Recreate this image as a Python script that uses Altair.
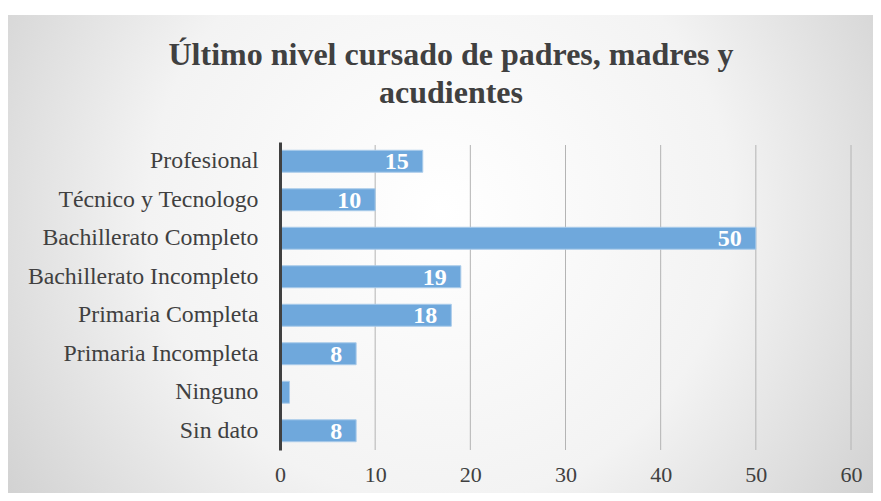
import altair as alt
import pandas as pd

categories = ["Profesional", "Técnico y Tecnologo", "Bachillerato Completo",
              "Bachillerato Incompleto", "Primaria Completa", "Primaria Incompleta",
              "Ninguno", "Sin dato"]
values = [15, 10, 50, 19, 18, 8, 1, 8]
x_ticks = [0, 10, 20, 30, 40, 50, 60]
title_lines = ["Último nivel cursado de padres, madres y", "acudientes"]

df = pd.DataFrame({"cat": categories, "val": values})
grid_df = pd.DataFrame({"t": x_ticks})

FONT = "Liberation Serif"
W, H = 571, 308
x_scale = alt.Scale(domain=[0, 60], nice=False)
y_enc = alt.Y("cat:N", sort=categories, title=None,
              scale=alt.Scale(paddingInner=0.43, paddingOuter=0.215),
              axis=alt.Axis(domainColor="#404040", domainWidth=3, ticks=False,
                            labelFont=FONT, labelFontSize=23.8, labelColor="#404040",
                            labelPadding=22, labelLimit=400, zindex=1, grid=False))

one = alt.Data(values=[{"a": 1}])

bg = alt.Chart(one).mark_rect(
    color=alt.Gradient(gradient="radial", x1=0.5, y1=0.45, r1=0, x2=0.5, y2=0.45, r2=0.75,
                       stops=[alt.GradientStop(offset=0, color="#ffffff"),
                              alt.GradientStop(offset=0.45, color="#f3f3f3"),
                              alt.GradientStop(offset=1, color="#bebebe")])
).encode(x=alt.value(-273), x2=alt.value(593), y=alt.value(-127), y2=alt.value(351))

grid = alt.Chart(grid_df).mark_rule(color="#b4b4b4", strokeWidth=1).encode(
    x=alt.X("t:Q", scale=x_scale),
    y=alt.value(3), y2=alt.value(H)
)

bars = alt.Chart(df).mark_bar(color="#6fa8dc", stroke="#a9cbea", strokeWidth=1).encode(
    x=alt.X("val:Q", scale=x_scale, title=None,
            axis=alt.Axis(values=x_ticks, domain=False, ticks=False, grid=False,
                          labelFont=FONT, labelFontSize=22, labelColor="#404040",
                          labelPadding=14, labelFlush=False, zindex=1)),
    y=y_enc,
)

labels = alt.Chart(df).transform_filter("datum.val > 1").mark_text(
    align="right", baseline="middle", dx=-14, dy=1, font=FONT, fontSize=24,
    fontWeight="bold", color="white"
).encode(
    x=alt.X("val:Q", scale=x_scale),
    y=alt.Y("cat:N", sort=categories),
    text="val:Q"
)

title = alt.Chart(one).mark_text(
    text="\n".join(title_lines), lineBreak="\n", align="center", baseline="middle",
    font=FONT, fontSize=32, fontWeight="bold", color="#404040", lineHeight=38
).encode(x=alt.value(171), y=alt.value(-87))

chart = alt.layer(bg, grid, bars, labels, title).properties(
    width=W, height=H,
    autosize=alt.AutoSizeParams(type="none"),
    padding={"left": 272, "top": 134, "right": 22, "bottom": 43}
).configure_view(stroke=None)

chart.save("out.html", embed_options={"renderer": "svg", "actions": False})
